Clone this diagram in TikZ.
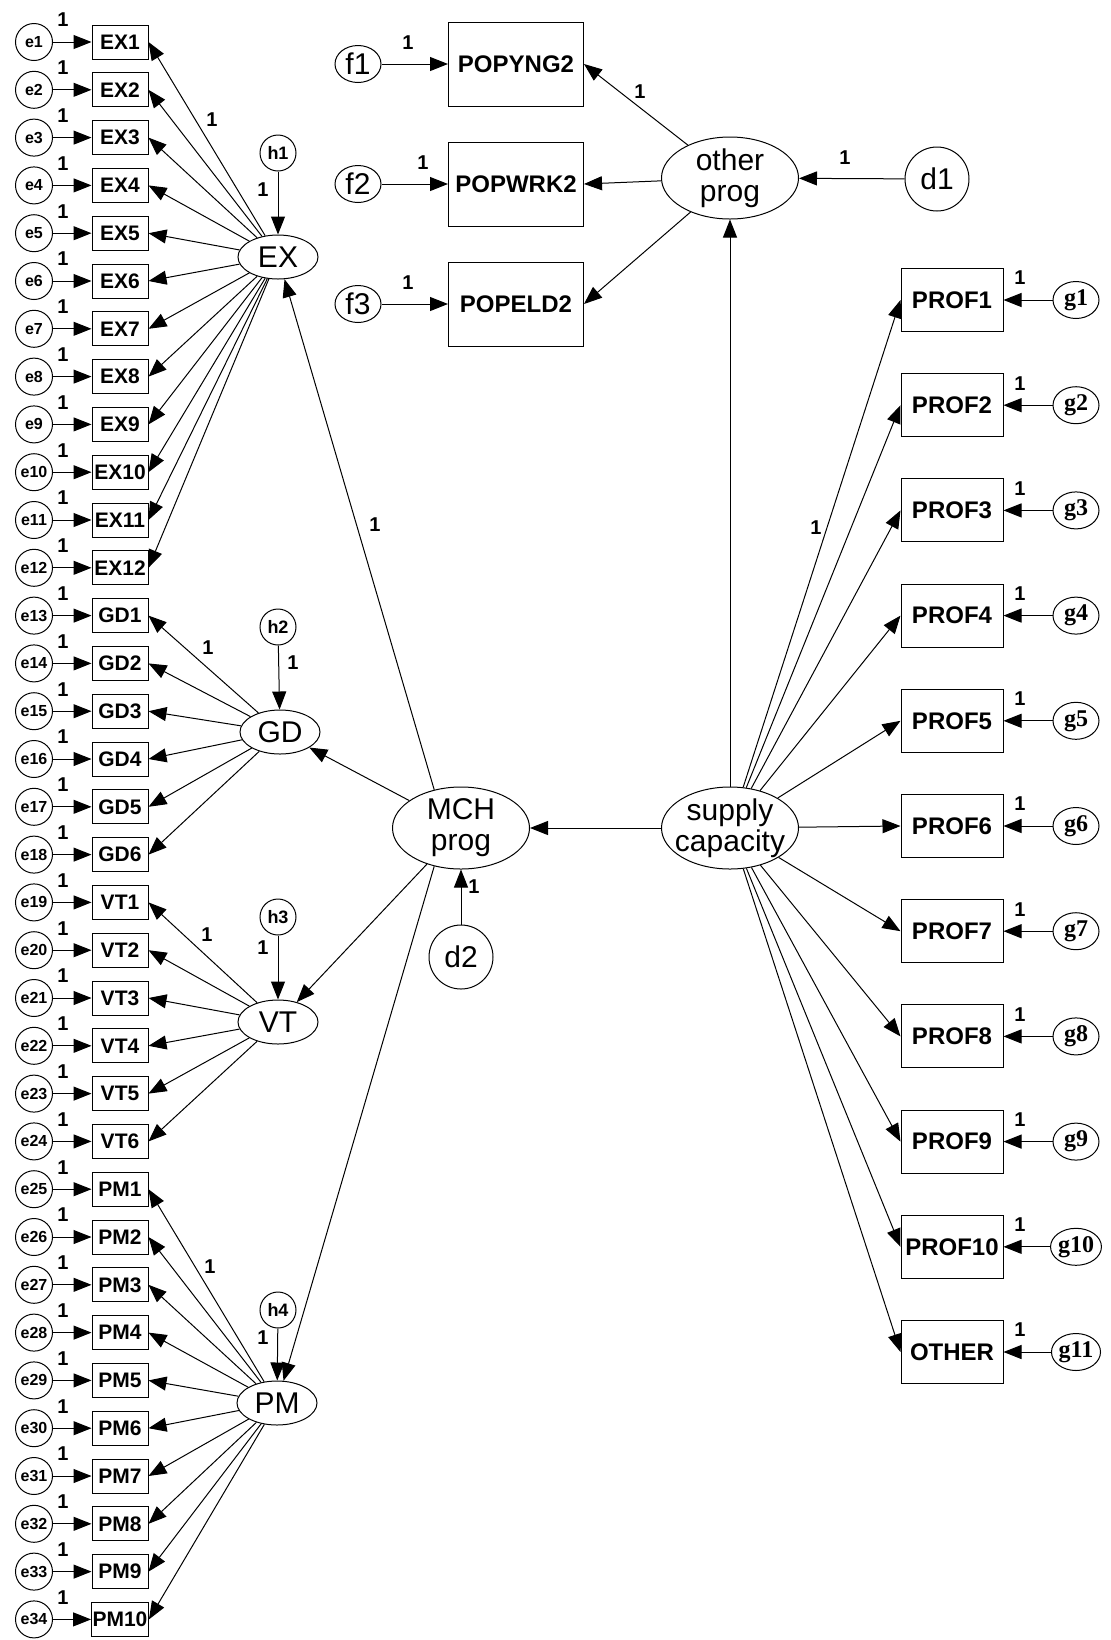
\documentclass[tikz,border=0pt]{standalone}
\usepackage{fontspec}
\setmainfont{Liberation Sans}
\newfontfamily\gfont{Liberation Serif}
\usetikzlibrary{arrows.meta,shapes.geometric}

\begin{document}
\begin{tikzpicture}[x=0.5pt,y=-0.5pt,line width=0.5pt,
  arr/.style={-{Triangle[length=9pt,width=7pt]}},
  obs/.style={draw, rectangle, minimum width=28pt, minimum height=17pt, inner sep=0.5pt, font=\fontsize{10.5}{10.5}\selectfont\bfseries},
  pop/.style={draw, rectangle, minimum width=67.5pt, minimum height=42pt, font=\fontsize{12}{12}\selectfont\bfseries},
  prof/.style={draw, rectangle, minimum width=51pt, minimum height=31.5pt, inner sep=0.5pt, font=\fontsize{12}{12}\selectfont\bfseries},
  err/.style={draw, circle, minimum size=18.5pt, inner sep=0pt, font=\fontsize{8}{8}\selectfont\bfseries},
  dist/.style={draw, circle, minimum size=18pt, inner sep=0pt, font=\fontsize{9}{9}\selectfont\bfseries},
  uerr/.style={draw, ellipse, minimum width=23pt, minimum height=18.5pt, inner sep=0pt, font=\fontsize{15}{15}\selectfont},
  gerr/.style={uerr, font=\gfont\fontsize{12}{12}\selectfont\bfseries},
  dd/.style={draw, circle, minimum size=32pt, inner sep=0pt, font=\fontsize{15}{15}\selectfont},
  lat/.style={draw, ellipse, minimum width=40pt, minimum height=22pt, inner sep=0pt, font=\fontsize{15}{15}\selectfont},
  big/.style={draw, ellipse, minimum width=68.5pt, minimum height=41pt, inner xsep=-6pt, inner ysep=-3pt, align=center, font=\fontsize{15}{15.5}\selectfont},
  one/.style={inner sep=0pt, font=\fontsize{10}{10}\selectfont\bfseries},
]
\useasboundingbox (0,0) rectangle (1110,1640);

% first order factors
\node[lat] (EX) at (278,257) {EX};
\node[lat] (GD) at (280,732) {GD};
\node[lat] (VT) at (278,1022) {VT};
\node[lat] (PM) at (277,1403) {PM};
\node[dist] (h1) at (278,153) {h1};
\node[dist] (h2) at (278,627) {h2};
\node[dist] (h3) at (278,917) {h3};
\node[dist] (h4) at (278,1310) {h4};

% second order factors
\node[big] (mch) at (461,828) {MCH\\prog};
\node[big] (sc) at (730,828) {supply\\capacity};
\node[big] (op) at (730,178) {other\\prog};
\node[dd] (d1) at (937,179) {d1};
\node[dd] (d2) at (461,957) {d2};

% indicators with errors
\foreach \lab [count=\i] in {EX1,EX2,EX3,EX4,EX5,EX6,EX7,EX8,EX9,EX10,EX11,EX12,GD1,GD2,GD3,GD4,GD5,GD6,VT1,VT2,VT3,VT4,VT5,VT6,PM1,PM2,PM3,PM4,PM5,PM6,PM7,PM8,PM9,PM10} {
  \node[err] (e\i) at (34,{42+(\i-1)*47.8}) {e\i};
  \node[obs] (\lab) at (120,{42+(\i-1)*47.8}) {\lab};
  \draw[arr] (e\i) -- (\lab);
  \node[one] at (63,{20+(\i-1)*47.8}) {1};
}
\foreach \k in {1,...,12} \draw[arr] (EX) -- (EX\k.east);
\foreach \k in {1,...,6} {
  \draw[arr] (GD) -- (GD\k.east);
  \draw[arr] (VT) -- (VT\k.east);
}
\foreach \k in {1,...,10} \draw[arr] (PM) -- (PM\k.east);

\draw[arr] (h1) -- (EX);
\draw[arr] (h2) -- (GD);
\draw[arr] (h3) -- (VT);
\draw[arr] (h4) -- (PM);
\node[one] at (212,120) {1};
\node[one] at (208,648) {1};
\node[one] at (207,935) {1};
\node[one] at (210,1267) {1};
\node[one] at (263,190) {1};
\node[one] at (293,663) {1};
\node[one] at (263,948) {1};
\node[one] at (263,1338) {1};

% MCH prog
\draw[arr] (mch.125) -- (EX);
\draw[arr] (mch) -- (GD);
\draw[arr] (mch) -- (VT);
\draw[arr] (mch.235) -- (PM);
\draw[arr] (d2) -- (mch);
\node[one] at (375,525) {1};
\node[one] at (474,887) {1};

% other prog
\foreach \lab/\yy [count=\k] in {POPYNG2/64,POPWRK2/184,POPELD2/304} {
  \node[pop] (\lab) at (516,\yy) {\lab};
  \node[uerr] (f\k) at (358,\yy) {f\k};
  \draw[arr] (f\k) -- (\lab);
  \draw[arr] (op) -- (\lab.east);
}
\node[one] at (408,43) {1};
\node[one] at (423,163) {1};
\node[one] at (408,283) {1};
\node[one] at (640,92) {1};
\draw[arr] (d1) -- (op);
\node[one] at (845,158) {1};

% supply capacity
\draw[arr] (sc) -- (mch);
\draw[arr] (sc) -- (op);
\foreach \lab [count=\k] in {PROF1,PROF2,PROF3,PROF4,PROF5,PROF6,PROF7,PROF8,PROF9,PROF10,OTHER} {
  \node[prof] (\lab) at (952,{300+(\k-1)*105.2}) {\lab};
  \node[gerr] (g\k) at (1076,{300+(\k-1)*105.2}) {g\k};
  \draw[arr] (g\k) -- (\lab);
  \draw[arr] (sc) -- (\lab.west);
  \node[one] at (1020,{278+(\k-1)*105.2}) {1};
}
\node[one] at (816,528) {1};
\end{tikzpicture}
\end{document}
